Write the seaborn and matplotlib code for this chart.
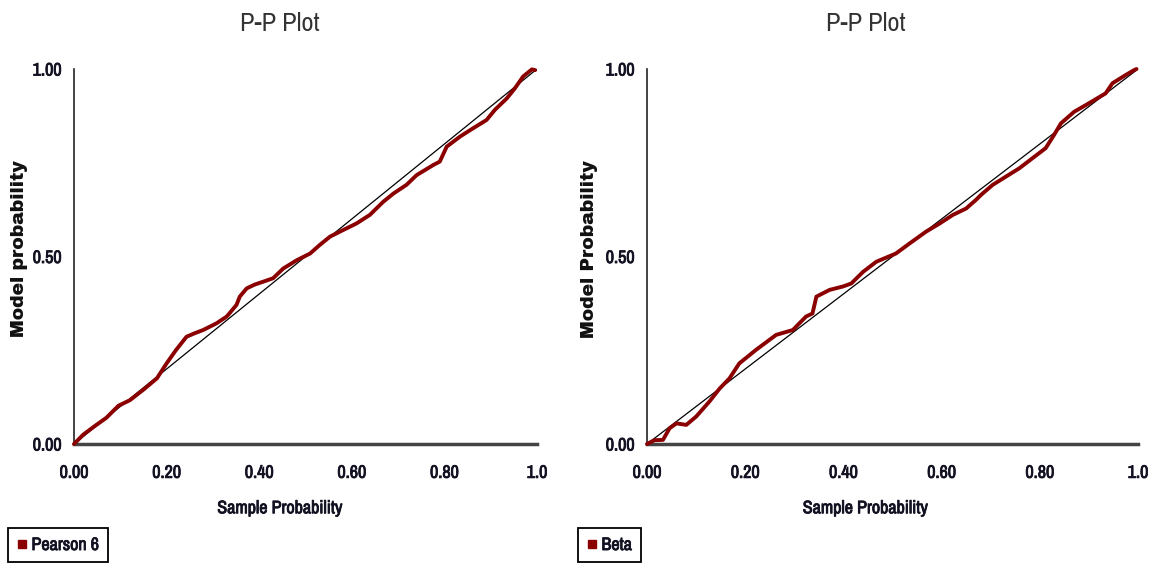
import numpy as np
import pandas as pd
import matplotlib
matplotlib.use('Agg')
import matplotlib.pyplot as plt
import matplotlib.patheffects as pe
from matplotlib.lines import Line2D
import seaborn as sns

# P-P points (sample prob, model prob)
pearson_u = [0, 0.02, 0.045, 0.07, 0.096, 0.121, 0.15, 0.179, 0.2, 0.22,
             0.243, 0.26, 0.279, 0.308, 0.33, 0.351, 0.358, 0.373, 0.39, 0.409,
             0.43, 0.452, 0.481, 0.51, 0.531, 0.553, 0.582, 0.61, 0.639, 0.668,
             0.69, 0.718, 0.74, 0.776, 0.79, 0.805, 0.834, 0.862, 0.891, 0.909,
             0.935, 0.952, 0.97, 0.989, 0.996]
pearson_v = [0, 0.025, 0.048, 0.07, 0.102, 0.117, 0.145, 0.175, 0.215, 0.25,
             0.286, 0.295, 0.304, 0.322, 0.34, 0.371, 0.393, 0.415, 0.425, 0.433,
             0.442, 0.468, 0.49, 0.508, 0.531, 0.553, 0.571, 0.588, 0.611, 0.646,
             0.668, 0.691, 0.717, 0.744, 0.753, 0.793, 0.82, 0.842, 0.864, 0.891,
             0.922, 0.948, 0.98, 0.999, 0.997]

beta_u = [0, 0.015, 0.0325, 0.046, 0.06, 0.08, 0.1, 0.127, 0.148, 0.168,
          0.188, 0.222, 0.263, 0.297, 0.324, 0.337, 0.345, 0.372, 0.399, 0.416,
          0.44, 0.467, 0.507, 0.535, 0.568, 0.596, 0.623, 0.65, 0.67, 0.68,
          0.704, 0.731, 0.758, 0.785, 0.812, 0.829, 0.843, 0.87, 0.894, 0.934,
          0.948, 0.975, 0.992, 0.997]
beta_v = [0, 0.01, 0.011, 0.042, 0.055, 0.051, 0.073, 0.113, 0.148, 0.175,
          0.215, 0.251, 0.291, 0.304, 0.34, 0.348, 0.393, 0.411, 0.42, 0.428,
          0.459, 0.486, 0.508, 0.535, 0.566, 0.588, 0.611, 0.628, 0.651, 0.664,
          0.691, 0.713, 0.735, 0.762, 0.789, 0.824, 0.855, 0.886, 0.904, 0.935,
          0.962, 0.984, 0.997, 1.0]

x_ticks = [0, 0.2, 0.4, 0.6, 0.8, 1.0]
x_labels = ['0.00', '0.20', '0.40', '0.60', '0.80', '1.0']
y_ticks = [0, 0.25, 0.5, 0.75, 1.0]
y_labels = ['0.00', '', '0.50', '', '1.00']

sns.set_style('white')
# narrow face like the original's Arial Narrow, with fallbacks
narrow = ['Liberation Sans Narrow', 'Archivo Narrow', 'Liberation Sans', 'DejaVu Sans']
heavy = ['Archivo Black', 'DejaVu Sans']
plt.rcParams['font.family'] = narrow

red = '#8b0000'
ink = '#111122'
# fake a heavier weight for the narrow face
thick = [pe.withStroke(linewidth=0.6, foreground=ink)]

fig = plt.figure(figsize=(11.58, 5.71), dpi=100)
W, H = 1158, 571

panels = [
    (pearson_u, pearson_v, 'Pearson 6', 'Model probability', 74, 537, 8),
    (beta_u, beta_v, 'Beta', 'Model Probability', 647, 1138, 578),
]

for u, v, name, ylab, x0, x1, leg_x in panels:
    ax = fig.add_axes([x0 / W, 1 - 444 / H, (x1 - x0) / W, (444 - 69) / H])
    df = pd.DataFrame({'u': u, 'v': v})
    ax.plot([0, 1], [0, 1], color='black', lw=0.9, zorder=2)
    sns.lineplot(data=df, x='u', y='v', ax=ax, color=red, lw=2.8,
                 sort=False, estimator=None, zorder=3, clip_on=False)
    ax.set_xlim(0, 1)
    ax.set_ylim(0, 1)

    for s in ['top', 'right']:
        ax.spines[s].set_visible(False)
    ax.spines['left'].set_color('#222222')
    ax.spines['left'].set_linewidth(1.2)
    ax.spines['bottom'].set_color('#444444')
    ax.spines['bottom'].set_linewidth(2.5)

    ax.set_xticks(x_ticks)
    ax.set_xticklabels(x_labels)
    ax.set_yticks(y_ticks)
    ax.set_yticklabels(y_labels)
    ax.tick_params(axis='x', direction='in', length=8, width=1.2, color='#c0c0c0',
                   pad=15, labelsize=13, labelcolor=ink)
    ax.tick_params(axis='y', direction='in', length=8, width=1.2, color='#c0c0c0',
                   pad=9, labelsize=13, labelcolor=ink)
    for t in ax.get_xticklabels() + ax.get_yticklabels():
        t.set_path_effects(thick)

    ax.set_xlabel('Sample Probability', fontsize=13, color=ink, path_effects=thick)
    ax.xaxis.set_label_coords(0.445, -0.15)
    ax.set_ylabel(ylab, fontsize=13.5, family=heavy, color='#111111')
    ax.yaxis.set_label_coords(-0.099, 0.52)

    ax.text(0.445, 1.12, 'P-P Plot', transform=ax.transAxes, ha='center',
            va='center', fontsize=19, color='#333333')

    handle = Line2D([], [], color=red, marker='s', ls='none', markersize=6)
    leg = fig.legend([handle], [name], loc='upper left',
                     bbox_to_anchor=(leg_x / W, 1 - 528 / H), borderaxespad=0,
                     fancybox=False, frameon=True, edgecolor='black', fontsize=13,
                     handlelength=0.5, handletextpad=0.3, borderpad=0.5,
                     framealpha=1)
    leg.get_frame().set_linewidth(1.3)
    for t in leg.get_texts():
        t.set_color(ink)
        t.set_path_effects(thick)

fig.savefig('out.png', dpi=100)
